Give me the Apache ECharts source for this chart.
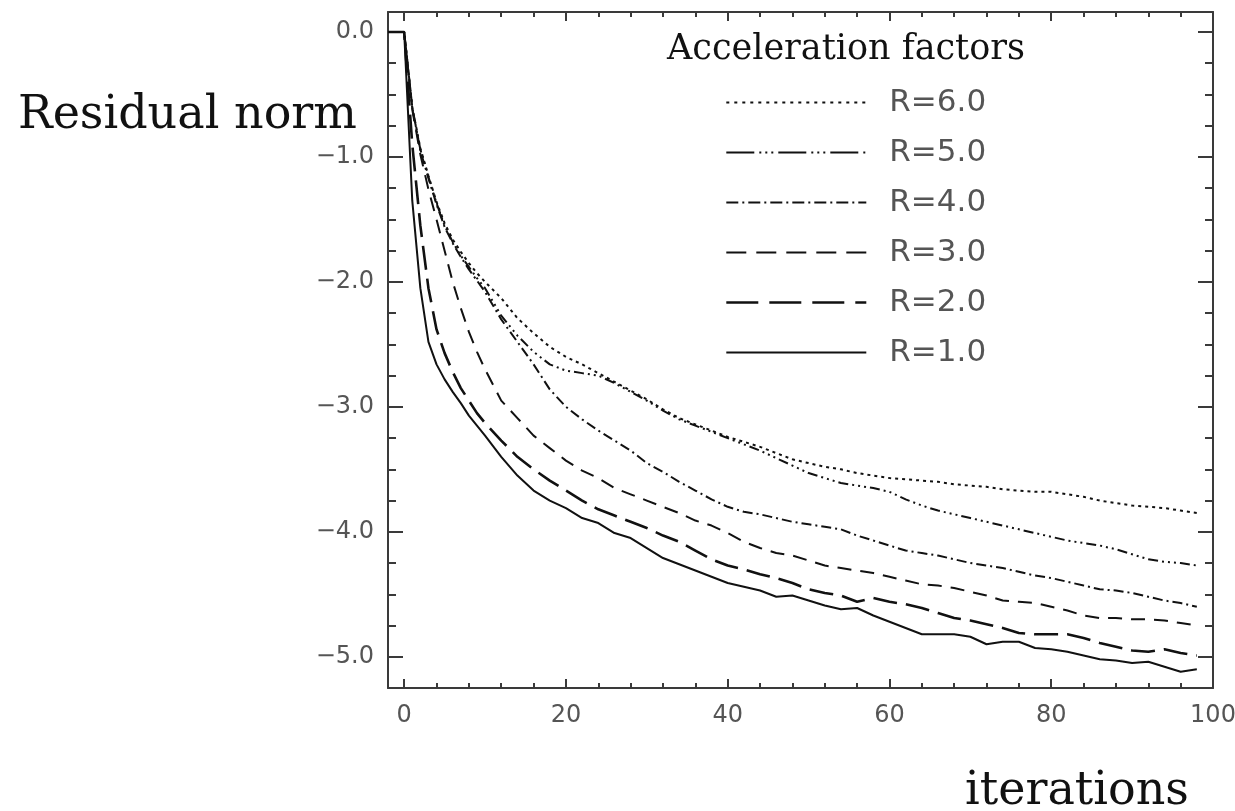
<!DOCTYPE html>
<html>
<head>
<meta charset="utf-8">
<title>Residual norm vs iterations</title>
<script src="https://cdn.jsdelivr.net/npm/echarts@6.0.0/dist/echarts.min.js"></script>
<style>
  html, body { margin: 0; padding: 0; background: #fff; }
  #chart { width: 1235px; height: 811px; }
</style>
</head>
<body>
<div id="chart"></div>
<script>
// iteration numbers the curves were read at (x = -2 is the flat lead-in at 0)
const iterations = [-2, 0, 1, 2, 3, 4, 5, 6, 7, 8, 9, 10,
  12, 14, 16, 18, 20, 22, 24, 26, 28, 30,
  32, 34, 36, 38, 40, 42, 44, 46, 48, 50,
  52, 54, 56, 58, 60, 62, 64, 66, 68, 70,
  72, 74, 76, 78, 80, 82, 84, 86, 88, 90,
  92, 94, 96, 98];

const r1 = [0, 0, -1.35, -2.05, -2.48, -2.66, -2.78, -2.88, -2.97, -3.07, -3.15, -3.23,
  -3.40, -3.55, -3.67, -3.75, -3.81, -3.89, -3.93, -4.01, -4.05, -4.13,
  -4.21, -4.26, -4.31, -4.36, -4.41, -4.44, -4.47, -4.52, -4.51, -4.55,
  -4.59, -4.62, -4.61, -4.67, -4.72, -4.77, -4.82, -4.82, -4.82, -4.84,
  -4.90, -4.88, -4.88, -4.93, -4.94, -4.96, -4.99, -5.02, -5.03, -5.05,
  -5.04, -5.08, -5.12, -5.10];

const r2 = [0, 0, -0.90, -1.55, -2.05, -2.38, -2.57, -2.72, -2.85, -2.95, -3.05, -3.13,
  -3.27, -3.40, -3.50, -3.59, -3.67, -3.75, -3.82, -3.87, -3.92, -3.97,
  -4.03, -4.08, -4.15, -4.22, -4.27, -4.30, -4.34, -4.37, -4.41, -4.46,
  -4.49, -4.51, -4.56, -4.53, -4.56, -4.58, -4.61, -4.65, -4.69, -4.71,
  -4.74, -4.77, -4.81, -4.82, -4.82, -4.82, -4.85, -4.89, -4.92, -4.95,
  -4.96, -4.94, -4.97, -4.99];

const r3 = [0, 0, -0.62, -0.98, -1.26, -1.50, -1.75, -2.00, -2.21, -2.40, -2.56, -2.70,
  -2.95, -3.09, -3.23, -3.33, -3.43, -3.51, -3.57, -3.65, -3.70, -3.75,
  -3.80, -3.85, -3.91, -3.95, -4.01, -4.08, -4.13, -4.17, -4.19, -4.23,
  -4.27, -4.29, -4.31, -4.33, -4.36, -4.39, -4.42, -4.43, -4.45, -4.48,
  -4.51, -4.55, -4.56, -4.57, -4.60, -4.63, -4.67, -4.69, -4.69, -4.70,
  -4.70, -4.71, -4.73, -4.75];

const r4 = [0, 0, -0.60, -0.95, -1.17, -1.38, -1.56, -1.69, -1.80, -1.90, -1.99, -2.08,
  -2.30, -2.48, -2.66, -2.86, -3.00, -3.10, -3.19, -3.27, -3.35, -3.45,
  -3.52, -3.60, -3.67, -3.74, -3.80, -3.84, -3.86, -3.89, -3.92, -3.94,
  -3.96, -3.98, -4.03, -4.07, -4.11, -4.15, -4.17, -4.19, -4.22, -4.25,
  -4.27, -4.29, -4.32, -4.35, -4.37, -4.40, -4.43, -4.46, -4.47, -4.49,
  -4.52, -4.55, -4.57, -4.60];

const r5 = [0, 0, -0.61, -0.94, -1.16, -1.37, -1.55, -1.68, -1.79, -1.88, -1.97, -2.05,
  -2.27, -2.43, -2.56, -2.66, -2.71, -2.73, -2.75, -2.81, -2.88, -2.95,
  -3.03, -3.10, -3.15, -3.20, -3.25, -3.30, -3.35, -3.41, -3.47, -3.53,
  -3.57, -3.61, -3.63, -3.65, -3.68, -3.74, -3.79, -3.83, -3.86, -3.89,
  -3.92, -3.95, -3.98, -4.01, -4.04, -4.07, -4.09, -4.11, -4.14, -4.18,
  -4.22, -4.24, -4.25, -4.27];

const r6 = [0, 0, -0.60, -0.93, -1.15, -1.36, -1.53, -1.66, -1.76, -1.85, -1.93, -2.00,
  -2.13, -2.29, -2.41, -2.52, -2.60, -2.66, -2.73, -2.80, -2.87, -2.94,
  -3.02, -3.09, -3.14, -3.19, -3.24, -3.28, -3.32, -3.37, -3.42, -3.45,
  -3.48, -3.50, -3.53, -3.55, -3.57, -3.58, -3.59, -3.60, -3.62, -3.63,
  -3.64, -3.66, -3.67, -3.68, -3.68, -3.70, -3.72, -3.75, -3.77, -3.79,
  -3.80, -3.81, -3.83, -3.85];

const legendNames = ['R=6.0', 'R=5.0', 'R=4.0', 'R=3.0', 'R=2.0', 'R=1.0'];
const xMajorTicks = [0, 20, 40, 60, 80, 100];
const xMinorTicks = [4, 8, 12, 16, 24, 28, 32, 36, 44, 48, 52, 56, 64, 68, 72, 76, 84, 88, 92, 96];
const yMajorTicks = [0, -1, -2, -3, -4, -5];
const yMinorTicks = [-0.25, -0.5, -0.75, -1.25, -1.5, -1.75, -2.25, -2.5, -2.75,
  -3.25, -3.5, -3.75, -4.25, -4.5, -4.75];

const chart = echarts.init(document.getElementById('chart'));

const axisColor = '#3a3a3a';
const labelFont = { fontFamily: 'DejaVu Sans', fontSize: 24, color: '#555' };
const serifFont = { fontFamily: 'DejaVu Serif', fontWeight: 'normal', color: '#111' };

// dash patterns: on the curves, and the longer ones drawn in the legend
const styles = {
  'R=1.0': { data: r1, width: 2, dash: 'solid', legendDash: 'solid' },
  'R=2.0': { data: r2, width: 2.6, dash: [24, 9], legendDash: [32, 11] },
  'R=3.0': { data: r3, width: 2, dash: [14, 9], legendDash: [20, 10] },
  'R=4.0': { data: r4, width: 2, dash: [10, 4, 2, 4], legendDash: [12, 4, 2, 4] },
  'R=5.0': { data: r5, width: 2, dash: [10, 4, 2, 4, 2, 4, 2, 4], legendDash: [28, 5, 2, 4, 2, 4, 2, 5] },
  'R=6.0': { data: r6, width: 2, dash: [3, 4], legendDash: [3, 5] }
};

const tickLabel = (v) => (v === 0 ? '0.0' : '\u2212' + Math.abs(v).toFixed(1));

function xAxisPart(position, ticks, length, withLine, withLabel) {
  return {
    type: 'value', position: position, min: -2, max: 100,
    axisLine: { show: withLine, onZero: false, lineStyle: { color: axisColor, width: 2 } },
    axisTick: { show: true, inside: true, length: length, customValues: ticks,
      lineStyle: { color: axisColor, width: 2 } },
    axisLabel: withLabel
      ? Object.assign({ show: true, customValues: ticks, margin: 16 }, labelFont)
      : { show: false },
    splitLine: { show: false }
  };
}

function yAxisPart(position, ticks, length, withLine, withLabel) {
  return {
    type: 'value', position: position, min: -5.25, max: 0.16,
    axisLine: { show: withLine, onZero: false, lineStyle: { color: axisColor, width: 2 } },
    axisTick: { show: true, inside: true, length: length, customValues: ticks,
      lineStyle: { color: axisColor, width: 2 } },
    axisLabel: withLabel
      ? Object.assign({ show: true, customValues: ticks, margin: 14, formatter: tickLabel }, labelFont)
      : { show: false },
    splitLine: { show: false }
  };
}

const option = {
  animation: false,
  backgroundColor: '#fff',
  grid: { left: 388, right: 22, top: 12, bottom: 123, containLabel: false, outerBoundsMode: 'none' },
  title: [
    { text: 'Acceleration factors', left: 667, top: 32, padding: 0,
      textStyle: Object.assign({ fontSize: 35 }, serifFont) },
    { text: 'Residual norm', left: 18, top: 93, padding: 0,
      textStyle: Object.assign({ fontSize: 46 }, serifFont) },
    { text: 'iterations', left: 965, top: 769, padding: 0,
      textStyle: Object.assign({ fontSize: 46 }, serifFont) }
  ],
  legend: {
    orient: 'vertical', left: 720, top: 82,
    itemWidth: 140, itemHeight: 30, itemGap: 19,
    selectedMode: false,
    itemStyle: { opacity: 0 },
    data: legendNames.map((name) => ({
      name: name,
      lineStyle: { type: styles[name].legendDash, width: styles[name].width, color: '#111' }
    })),
    textStyle: { fontFamily: 'DejaVu Sans', fontSize: 31, color: '#555', lineHeight: 30, padding: [0, 0, 0, 18] }
  },
  xAxis: [
    xAxisPart('bottom', xMajorTicks, 9, true, true),
    xAxisPart('bottom', xMinorTicks, 5, false, false),
    xAxisPart('top', xMajorTicks, 9, true, false),
    xAxisPart('top', xMinorTicks, 5, false, false)
  ],
  yAxis: [
    yAxisPart('left', yMajorTicks, 15, true, true),
    yAxisPart('left', yMinorTicks, 8, false, false),
    yAxisPart('right', yMajorTicks, 15, true, false),
    yAxisPart('right', yMinorTicks, 8, false, false)
  ],
  series: legendNames.slice().reverse().map((name) => ({
    name: name,
    type: 'line',
    xAxisIndex: 0,
    yAxisIndex: 0,
    symbol: 'none',
    smooth: false,
    data: iterations.map((it, i) => [it, styles[name].data[i]]),
    lineStyle: { color: '#111', width: styles[name].width, type: styles[name].dash },
    itemStyle: { color: '#111' }
  }))
};

chart.setOption(option);
</script>
</body>
</html>
